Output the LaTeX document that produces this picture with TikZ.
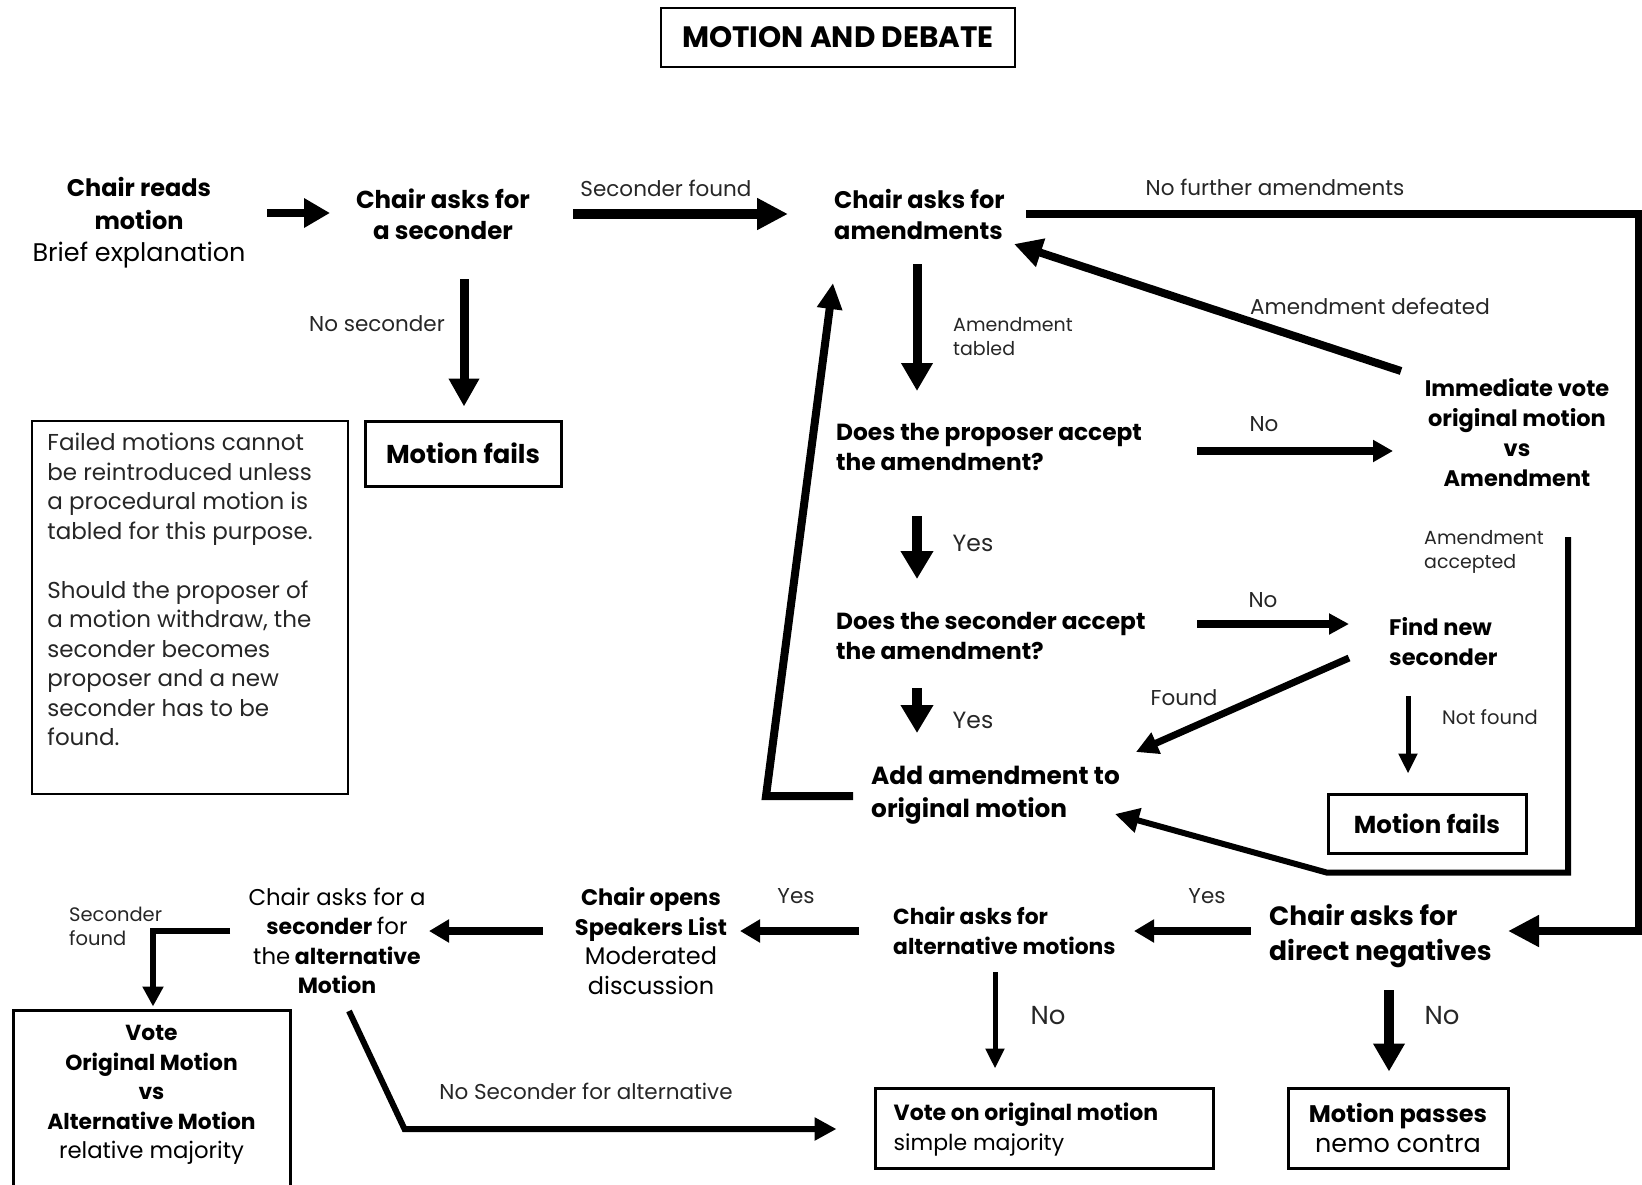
\documentclass[tikz,border=0pt]{standalone}
\usepackage{fontspec}
\setmainfont{Poppins}
\usetikzlibrary{arrows.meta,calc}
\newcommand{\fs}[2]{\fontsize{#1}{#2}\selectfont}
\begin{document}
\begin{tikzpicture}[x=1pt,y=-1pt,
  every node/.style={inner sep=0pt, text=black},
  conn/.style args={#1/#2/#3}{line width=#1pt, -{Triangle[length=#2pt,width=#3pt]}, line join=miter},
  ctr/.style={align=center, font=\fs{24}{31}\bfseries},
  lt/.style={anchor=west, align=left, font=\fs{24}{31}\bfseries},
  qn/.style={anchor=west, align=left, font=\fs{23.3}{30}\bfseries},
  boxed/.style={draw, line width=3pt},
  lbl/.style={font=\fs{21.5}{24}, text=black!85},
  lbls/.style={font=\fs{19}{24}, text=black!85, anchor=west, align=left},
  lblb/.style={font=\fs{23.5}{28}, text=black!85}
]
\useasboundingbox (0,0) rectangle (1642,1184);

% title
\node[draw, line width=2pt, minimum width=354pt, minimum height=59pt,
      font=\fs{29.5}{34}\bfseries] (title) at (838,37.5) {MOTION AND DEBATE};

% nodes
\node[ctr, font=\fs{24}{32.5}\bfseries] (reads) at (139,223) {Chair reads\\motion\\{\fs{25.5}{32.5}\mdseries Brief explanation}};
\node[ctr, font=\fs{24.5}{31}\bfseries] (askSec) at (443,214) {Chair asks for\\a seconder};
\node[boxed, minimum width=196pt, minimum height=65pt, font=\fs{25.8}{31}\bfseries] (fail1) at (463,453.5) {Motion fails};

\node[draw, line width=1.5pt, minimum width=316pt, minimum height=373pt] (noteBox) at (190,607.5) {};
\node[anchor=north west, align=left, font=\fs{23}{29.5}, text=black!85] (note)
  at ($(noteBox.north west)+(16,13)$)
  {Failed motions cannot\\be reintroduced unless\\a procedural motion is\\tabled for this purpose.\\[29.5pt]
   Should the proposer of\\a motion withdraw, the\\seconder becomes\\proposer and a new\\seconder has to be\\found.};

\node[lt] (amend) at (834,214) {Chair asks for\\amendments};
\node[qn] (propQ) at (836,447) {Does the proposer accept\\the amendment?};
\node[ctr, font=\fs{22.5}{30}\bfseries] (immVote) at (1517,433) {Immediate vote\\original motion\\vs\\Amendment};
\node[qn] (secQ) at (836,636) {Does the seconder accept\\the amendment?};
\node[lt, font=\fs{22.5}{30}\bfseries] (findNew) at (1389,642) {Find new\\seconder};
\node[lt, font=\fs{24.8}{33}\bfseries] (addAm) at (871,795) {Add amendment to\\original motion};
\node[boxed, minimum width=198pt, minimum height=59pt, font=\fs{24.5}{31}\bfseries] (fail2) at (1427,823.5) {Motion fails};

\node[lt, font=\fs{26.5}{35}\bfseries] (directNeg) at (1269,936) {Chair asks for\\direct negatives};
\node[qn, font=\fs{21.8}{30}\bfseries] (altMot) at (893,931) {Chair asks for\\alternative motions};
\node[ctr, font=\fs{22.5}{29.5}\bfseries] (opens) at (651,941) {Chair opens\\Speakers List\\{\fs{24}{29.5}\mdseries Moderated}\\{\fs{24}{29.5}\mdseries discussion}};
\node[ctr, font=\fs{22}{29.5}\bfseries] (askAlt) at (337,941) {{\fs{22.8}{29.5}\mdseries Chair asks for a}\\seconder {\fs{22.8}{29.5}\mdseries for}\\{\fs{22.8}{29.5}\mdseries the} alternative\\Motion};

\node[boxed, minimum width=277pt, minimum height=176pt] (voteBox) at (151.5,1098) {};
\node[ctr, font=\fs{21.8}{29.5}\bfseries] (voteTxt) at (151.5,1095) {Vote\\Original Motion\\vs\\Alternative Motion\\{\fs{22.8}{29.5}\mdseries relative majority}};

\node[boxed, minimum width=338pt, minimum height=80pt] (voteOrig) at (1044,1128) {};
\node[anchor=west, align=left, font=\fs{22}{30}\bfseries] (voteOrigTxt) at ($(voteOrig.west)+(20,2)$) {Vote on original motion\\{\fs{22}{30}\mdseries simple majority}};
\node[boxed, minimum width=220pt, minimum height=80pt, align=center,
      font=\fs{24}{30}\bfseries] (passes) at (1398,1128) {Motion passes\\{\fs{25.5}{30}\mdseries nemo contra}};

% labels
\node[lbl] (l1) at (666,188) {Seconder found};
\node[lbl] (l2) at (377,324) {No seconder};
\node[lbl] (l3) at (1275,187) {No further amendments};
\node[lbls] (l4) at (953,337) {Amendment\\tabled};
\node[lbl] (l5) at (1264,424) {No};
\node[lbl] (l6) at (1370,306) {Amendment defeated};
\node[lblb] (l7) at (973,543) {Yes};
\node[lbl] (l8) at (1263,600) {No};
\node[lblb] (l9) at (973,720) {Yes};
\node[lbl] (l10) at (1184,698) {Found};
\node[lbl, font=\fs{19.5}{24}] (l11) at (1490,717) {Not found};
\node[lbls] (l12) at (1424,552) {Amendment\\accepted};
\node[lbl] (l13) at (1207,896) {Yes};
\node[lbl] (l14) at (796,896) {Yes};
\node[lbls, font=\fs{19.5}{24}] (l15) at (69,926) {Seconder\\found};
\node[lbl] (l16) at (586,1091) {No Seconder for alternative};
\node[lblb, font=\fs{26}{30}] (l17) at (1048,1016) {No};
\node[lblb, font=\fs{26}{30}] (l18) at (1442,1016) {No};

% connectors
\draw[conn=8/26/28] ($(reads)+(128,-10)$) -- ($(askSec)+(-113,-1)$);
\draw[conn=10/31/30] ($(askSec)+(130,0)$) -- ($(amend.west)+(-46,0)$);
\draw[conn=9/28/29] ($(askSec)+(21,65)$) -- ($(fail1.north)+(1,-13)$);
\draw[conn=8/31/30] ($(amend.west)+(192,0)$) -- ++(613,0) |- ($(directNeg.west)+(239,-5)$);
\draw[conn=9/28/30] ($(amend.west)+(83,50)$) -- ($(propQ.west)+(81,-56)$);
\draw[conn=8/20/21] ($(propQ.west)+(361,4)$) -- ($(immVote)+(-124,18)$);
\draw[conn=8/28/28] ($(immVote)+(-116,-62)$) -- ($(amend.west)+(180,30)$);
\draw[conn=10/28/31] ($(propQ.west)+(81,69)$) -- ($(secQ.west)+(81,-57)$);
\draw[conn=8/20/20] ($(secQ.west)+(361,-12)$) -- ($(findNew.west)+(-40,-18)$);
\draw[conn=10/28/31] ($(secQ.west)+(81,52)$) -- ($(addAm.west)+(46,-62)$);
\draw[conn=7/22/22] ($(findNew.west)+(-40,16)$) -- ($(addAm.west)+(265,-43)$);
\draw[conn=5/20/18] ($(findNew.west)+(19,54)$) -- ($(fail2.north)+(-19,-19)$);
\draw[conn=6/24/24] ($(immVote)+(51,104)$) |- ($(fail2.south west)+(0,18)$) -- ($(addAm.west)+(244,19)$);
\draw[conn=8/26/24] ($(addAm.west)+(-18,1)$) -- ++(-87,0) -- ($(amend.west)+(-1,69)$);
\draw[conn=8/20/22] ($(directNeg.west)+(-18,-5)$) -- ($(altMot.west)+(241,0)$);
\draw[conn=8/20/22] ($(altMot.west)+(-34,0)$) -- ($(opens)+(89,-10)$);
\draw[conn=8/20/22] ($(opens)+(-108,-10)$) -- ($(askAlt)+(92,-10)$);
\draw[conn=6/20/20] ($(askAlt)+(-107,-10)$) -| ($(voteBox.north)+(1.5,-2)$);
\draw[conn=6/22/22] ($(askAlt)+(12,70)$) -- ($(voteOrig.west)+(-469,1)$) -- ($(voteOrig.west)+(-37,1)$);
\draw[conn=5/20/18] ($(altMot.west)+(102,41)$) -- ($(voteOrig.north)+(-49,-18)$);
\draw[conn=10/28/30] ($(directNeg.west)+(120,54)$) -- ($(passes.north)+(-9,-15)$);
\end{tikzpicture}
\end{document}
